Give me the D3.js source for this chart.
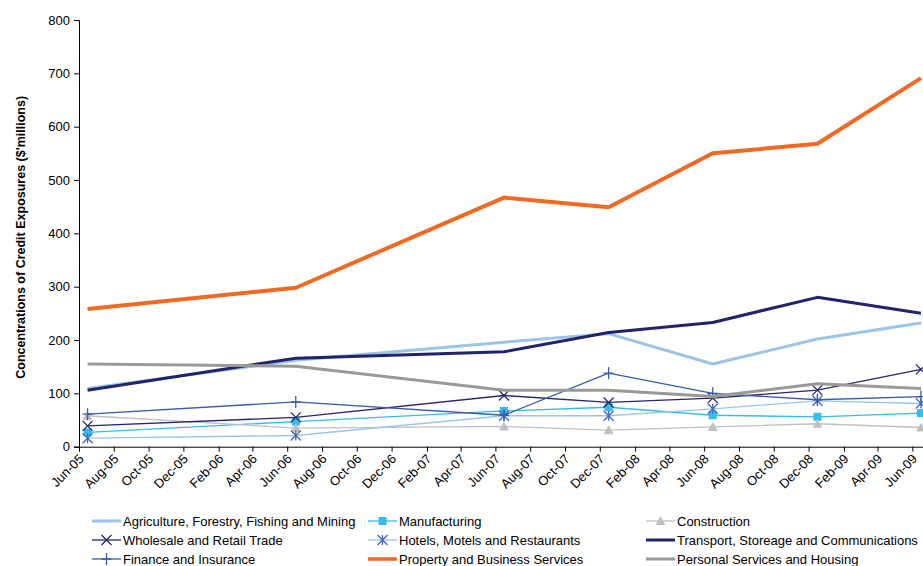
<!DOCTYPE html>
<html>
<head>
<meta charset="utf-8">
<script src="https://cdn.jsdelivr.net/npm/d3@7"></script>
<style>
  html, body { margin: 0; padding: 0; background: #fff; }
  svg { display: block; font-family: "Liberation Sans", Arial, sans-serif; }
</style>
</head>
<body>
<svg id="chart" width="923" height="566"></svg>
<script>
// Observation months (values sit in the middle of each month)
const periods = ["Jun-05", "Jun-06", "Jun-07", "Dec-07", "Jun-08", "Dec-08", "Jun-09"];

// Concentrations of credit exposures by industry ($'millions)
const agriculture   = [109, 162, 196, 212, 155, 202, 232];
const manufacturing = [27, 47, 67, 74, 59, 56, 63];
const construction  = [58, 35, 38, 31, 37, 43, 36];
const wholesale     = [39, 55, 96, 83, 91, 106, 145];
const hotels        = [16, 21, 58, 58, 71, 86, 81];
const transport     = [106, 166, 178, 214, 233, 280, 250];
const finance       = [61, 84, 59, 138, 100, 88, 94];
const property      = [258, 298, 467, 449, 550, 568, 691];
const personal      = [155, 151, 106, 106, 94, 118, 109];

// Axis labels
const yTicks = [0, 100, 200, 300, 400, 500, 600, 700, 800];
const xTickLabels = ["Jun-05", "Aug-05", "Oct-05", "Dec-05", "Feb-06", "Apr-06", "Jun-06",
  "Aug-06", "Oct-06", "Dec-06", "Feb-07", "Apr-07", "Jun-07", "Aug-07", "Oct-07", "Dec-07",
  "Feb-08", "Apr-08", "Jun-08", "Aug-08", "Oct-08", "Dec-08", "Feb-09", "Apr-09", "Jun-09"];
const yTitle = "Concentrations of Credit Exposures ($'millions)";

const series = [
  { name: "Agriculture, Forestry, Fishing and Mining", values: agriculture, color: "#9cc3e8", width: 3, marker: null },
  { name: "Manufacturing", values: manufacturing, color: "#33bdee", width: 1.3, marker: "square", mcolor: "#33bdee" },
  { name: "Construction", values: construction, color: "#c0c0c0", width: 1.3, marker: "triangle", mcolor: "#c0c0c0" },
  { name: "Wholesale and Retail Trade", values: wholesale, color: "#26266e", width: 1.3, marker: "x", mcolor: "#26266e" },
  { name: "Hotels, Motels and Restaurants", values: hotels, color: "#9cc5ec", width: 1.3, marker: "star", mcolor: "#4466bb" },
  { name: "Transport, Storeage and Communications", values: transport, color: "#20246a", width: 3, marker: null },
  { name: "Finance and Insurance", values: finance, color: "#3a5aaa", width: 1.3, marker: "plus", mcolor: "#3a5aaa" },
  { name: "Property and Business Services", values: property, color: "#f26a22", width: 4, marker: null },
  { name: "Personal Services and Housing", values: personal, color: "#999999", width: 3, marker: null }
];

const svg = d3.select("#chart");
const parseMonth = d3.timeParse("%b-%y");
const FONT = "'Liberation Sans', Arial, sans-serif";

const x = d3.scaleTime()
  .domain([parseMonth("Jun-05"), parseMonth("Jul-09")])
  .range([79, 929.5]);
const y = d3.scaleLinear().domain([0, 800]).range([446.7, 20]);

// centre of a month on the time axis
const xMid = label => {
  const m = parseMonth(label);
  return (x(m) + x(d3.timeMonth.offset(m, 1))) / 2;
};

// Y axis
const yAxis = svg.append("g")
  .attr("transform", "translate(79,0)")
  .call(d3.axisLeft(y).tickValues(yTicks).tickSize(5).tickPadding(4).tickFormat(d3.format("d")));
yAxis.select(".domain").attr("stroke", "#000");
yAxis.selectAll(".tick line").attr("stroke", "#000");
yAxis.selectAll("text").attr("font-size", 13).attr("fill", "#000").attr("font-family", FONT);

// X axis
const xAxis = svg.append("g")
  .attr("transform", `translate(0,${y(0)})`)
  .call(d3.axisBottom(x)
    .tickValues(xTickLabels.map(parseMonth))
    .tickSize(5)
    .tickSizeOuter(0)
    .tickFormat(d3.timeFormat("%b-%y")));
xAxis.select(".domain").attr("stroke", "#000");
xAxis.selectAll(".tick line").attr("stroke", "#000");
xAxis.selectAll("text")
  .attr("font-size", 13)
  .attr("fill", "#000")
  .attr("font-family", FONT)
  .attr("text-anchor", "end")
  .attr("y", 0).attr("dy", 0)
  .attr("transform", "translate(5,13) rotate(-45)");

// Y title
svg.append("text")
  .attr("transform", `translate(25,${(y(0) + y(800)) / 2 + 4}) rotate(-90)`)
  .attr("text-anchor", "middle")
  .attr("font-size", 12.5)
  .attr("font-weight", "bold")
  .attr("fill", "#000")
  .attr("font-family", FONT)
  .text(yTitle);

// Marker glyphs
function drawMarker(g, type, cx, cy, color) {
  const s = 5;
  if (type === "square") {
    g.append("rect").attr("x", cx - 4).attr("y", cy - 4).attr("width", 8).attr("height", 8).attr("fill", color);
  } else if (type === "triangle") {
    g.append("path").attr("d", `M${cx},${cy - 5}L${cx + 5},${cy + 4}L${cx - 5},${cy + 4}Z`).attr("fill", color);
  } else if (type === "x") {
    g.append("path").attr("d", `M${cx - s},${cy - s}L${cx + s},${cy + s}M${cx - s},${cy + s}L${cx + s},${cy - s}`)
      .attr("stroke", color).attr("stroke-width", 1.3).attr("fill", "none");
  } else if (type === "plus") {
    g.append("path").attr("d", `M${cx - s},${cy}L${cx + s},${cy}M${cx},${cy - s - 1}L${cx},${cy + s + 1}`)
      .attr("stroke", color).attr("stroke-width", 1.3).attr("fill", "none");
  } else if (type === "star") {
    g.append("path").attr("d", `M${cx - s},${cy - s}L${cx + s},${cy + s}M${cx - s},${cy + s}L${cx + s},${cy - s}M${cx},${cy - s}L${cx},${cy + s}`)
      .attr("stroke", color).attr("stroke-width", 1.3).attr("fill", "none");
  }
}

const line = d3.line().x(d => d.x).y(d => d.y);
const plot = svg.append("g");

series.forEach(s => {
  const pts = s.values.map((v, i) => ({ x: xMid(periods[i]), y: y(v) }));
  const g = plot.append("g");
  g.append("path")
    .attr("d", line(pts))
    .attr("fill", "none")
    .attr("stroke", s.color)
    .attr("stroke-width", s.width)
    .attr("stroke-linejoin", "round");
  if (s.marker) pts.forEach(p => drawMarker(g, s.marker, p.x, p.y, s.mcolor));
});

// Legend: three columns
const legendCols = [92, 368, 646];
const legendRows = [521, 540, 559];
const legend = svg.append("g");
series.forEach((s, i) => {
  const lx = legendCols[i % 3], ly = legendRows[Math.floor(i / 3)];
  const g = legend.append("g");
  g.append("line").attr("x1", lx).attr("x2", lx + 29).attr("y1", ly).attr("y2", ly)
    .attr("stroke", s.color).attr("stroke-width", Math.min(s.width, 3.5));
  if (s.marker) drawMarker(g, s.marker, lx + 14.5, ly, s.mcolor);
  g.append("text").attr("x", lx + 31).attr("y", ly).attr("dy", "0.35em")
    .attr("font-size", 13).attr("fill", "#000").attr("font-family", FONT).text(s.name);
});
</script>
</body>
</html>
